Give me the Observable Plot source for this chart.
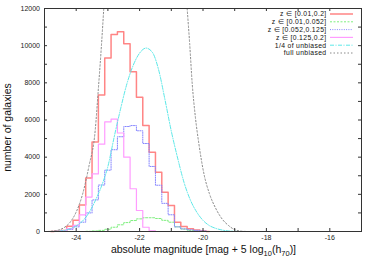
<!DOCTYPE html>
<html><head><meta charset="utf-8">
<script src="https://cdn.jsdelivr.net/npm/d3@7"></script>
<script src="https://cdn.jsdelivr.net/npm/@observablehq/plot@0.6"></script>
<style>
body{margin:0;background:#fff;}
#wrap{position:relative;width:374px;height:262px;}
svg{font-family:"Liberation Sans",Arial,sans-serif;}
</style></head><body><div id="wrap"></div>
<script>
// histogram bin centres (absolute magnitude)
const mags = [-24.8,-24.6,-24.4,-24.2,-24.0,-23.8,-23.6,-23.4,-23.2,-23.0,-22.8,-22.6,-22.4,-22.2,-22.0,-21.8,-21.6,-21.4,-21.2,-21.0,-20.8,-20.6,-20.4,-20.2,-20.0,-19.8];
const zAll   = [0,10,60,280,600,1430,2880,4810,7340,9340,10600,10750,10100,8600,7230,5705,4268,3191,2115,1400,500,270,150,80,30,0];
const zLow   = [0,0,0,0,0,0,10,30,60,120,230,360,480,590,680,740,740,700,600,500,250,130,60,20,0,0];
const zMid   = [0,5,25,110,250,500,1000,1700,2500,3300,4400,5100,5650,5700,5420,4735,3500,2490,1515,900,250,140,90,60,30,0];
const zHigh  = [0,5,35,160,330,900,1850,3100,4700,5900,6050,5300,4000,2300,1130,230,30,0,0,0,0,0,0,0,0,0];

// smooth curves
const quarterMag = [-24.8,-24.6,-24.4,-24.2,-24.0,-23.8,-23.6,-23.4,-23.2,-23.0,-22.8,-22.6,-22.4,-22.2,-22.0,-21.8,-21.6,-21.4,-21.2,-21.0,-20.8,-20.6,-20.4,-20.2,-20.0,-19.8,-19.6,-19.4,-19.2,-19.0,-18.8];
const quarterVal = [0,10,50,140,300,560,1000,1650,2450,3500,5100,6600,7950,8950,9600,9870,9650,8700,7100,5400,3950,2650,1700,1050,600,320,170,80,30,10,0];
const fullMag = [-24.9,-24.8,-24.6,-24.4,-24.2,-24.0,-23.8,-23.6,-23.4,-23.3,-23.2,-23.13,-21.8,-20.5,-20.42,-20.34,-20.24,-20.13,-19.97,-19.8,-19.6,-19.4,-19.2,-19.0,-18.8,-18.6];
const fullVal = [0,15,60,190,480,1050,2000,3500,5450,7700,10100,12000,null,12000,10100,7950,6150,4720,3100,2050,1250,680,330,100,20,0];

const xLabelTicks = [-24,-22,-20,-18,-16];
const xTickMarks = [-24,-23,-22,-21,-20,-19,-18,-17,-16];
const yLabelTicks = [0,2000,4000,6000,8000,10000,12000];
const yTickMarks = [1000,2000,3000,4000,5000,6000,7000,8000,9000,10000,11000];

const series = [
  {name:"z \u2208 [0.01,0.2]",   vals:zAll,  color:"#ff8585", width:1.5, dash:null},
  {name:"z \u2208 [0.01,0.052]", vals:zLow,  color:"#7fef7f", width:1,   dash:"2,1.5"},
  {name:"z \u2208 [0.052,0.125]",vals:zMid,  color:"#8585ff", width:1,   dash:"1,1.3"},
  {name:"z \u2208 [0.125,0.2]",  vals:zHigh, color:"#ff9cff", width:1.2, dash:null},
];
const histData = series.flatMap(s => mags.map((m,i)=>({m, v:s.vals[i], s:s.name})));
const quarter = quarterMag.map((m,i)=>({m, v:quarterVal[i]}));
const full = fullMag.map((m,i)=>({m, v:fullVal[i]}));

const W=374,H=262, ml=44, mr=13, mt=8, mb=31;
const fw = W-ml-mr, fh = H-mt-mb;
const frameColor = "#333";
const cyan = "#5ce8e8", gray = "#8a8a8a";

const marks = [
  ...series.map(s => Plot.line(histData.filter(d=>d.s===s.name), {x:"m", y:"v", curve:"step", stroke:s.color, strokeWidth:s.width, strokeDasharray:s.dash})),
  Plot.line(quarter, {x:"m", y:"v", curve:"monotone-x", stroke:cyan, strokeWidth:1, strokeDasharray:"4,1.5,1,1.5", clip:true}),
  Plot.line(full, {x:"m", y:"v", curve:"monotone-x", stroke:gray, strokeWidth:1, strokeDasharray:"1.5,2", clip:true}),
  Plot.tickX(xTickMarks, {x:d=>d, insetTop:fh-3, stroke:frameColor}),
  Plot.tickX(xTickMarks, {x:d=>d, insetBottom:fh-3, stroke:frameColor}),
  Plot.tickY(yTickMarks, {y:d=>d, insetRight:fw-3, stroke:frameColor}),
  Plot.tickY(yTickMarks, {y:d=>d, insetLeft:fw-3, stroke:frameColor}),
  Plot.axisX({ticks:xLabelTicks, tickSize:0, tickPadding:4, tickFormat:d=>String(d), label:null, fontSize:7, color:"#222"}),
  Plot.axisY({ticks:yLabelTicks, tickSize:0, tickPadding:4.5, tickFormat:d=>String(d), label:null, fontSize:7, color:"#222"}),
  Plot.frame({stroke:frameColor, strokeWidth:1})
];

const chart = Plot.plot({
  width:W, height:H, marginLeft:ml, marginRight:mr, marginTop:mt, marginBottom:mb,
  x:{domain:[-25,-15]},
  y:{domain:[0,12000]},
  style:{fontFamily:"'Liberation Sans',Arial,sans-serif", background:"#fff"},
  marks
});
document.getElementById("wrap").appendChild(chart);

const svg = d3.select(chart);
// axis titles
svg.append("text").attr("transform",`translate(10.5,${mt+fh/2+8}) rotate(-90)`)
  .attr("text-anchor","middle").attr("font-size",10.5).attr("fill","#111").text("number of galaxies");
const xl = svg.append("text").attr("x", ml+fw/2+1).attr("y", 253).attr("text-anchor","middle").attr("font-size",10.5).attr("fill","#111");
xl.append("tspan").text("absolute magnitude [mag + 5 log");
xl.append("tspan").attr("font-size",7.5).attr("dy",2.5).text("10");
xl.append("tspan").attr("dy",-2.5).text("(h");
xl.append("tspan").attr("font-size",7.5).attr("dy",2.5).text("70");
xl.append("tspan").attr("dy",-2.5).text(")]");

// key
const legendItems = [
  ...series.map(s=>({name:s.name, color:s.color, width:s.width, dash:s.dash})),
  {name:"1/4 of unbiased", color:cyan, width:1, dash:"4,1.5,1,1.5"},
  {name:"full unbiased", color:gray, width:1, dash:"1.5,2"}
];
const key = svg.append("g").attr("font-size",6.8).attr("letter-spacing",0.35).attr("fill","#111");
legendItems.forEach((it,i)=>{
  const y = 14 + i*7.8;
  key.append("text").attr("x",326.5).attr("y",y+2.4).attr("text-anchor","end").text(it.name);
  key.append("line").attr("x1",330).attr("x2",353).attr("y1",y).attr("y2",y)
    .attr("stroke",it.color).attr("stroke-width",it.width).attr("stroke-dasharray",it.dash);
});
</script></body></html>
